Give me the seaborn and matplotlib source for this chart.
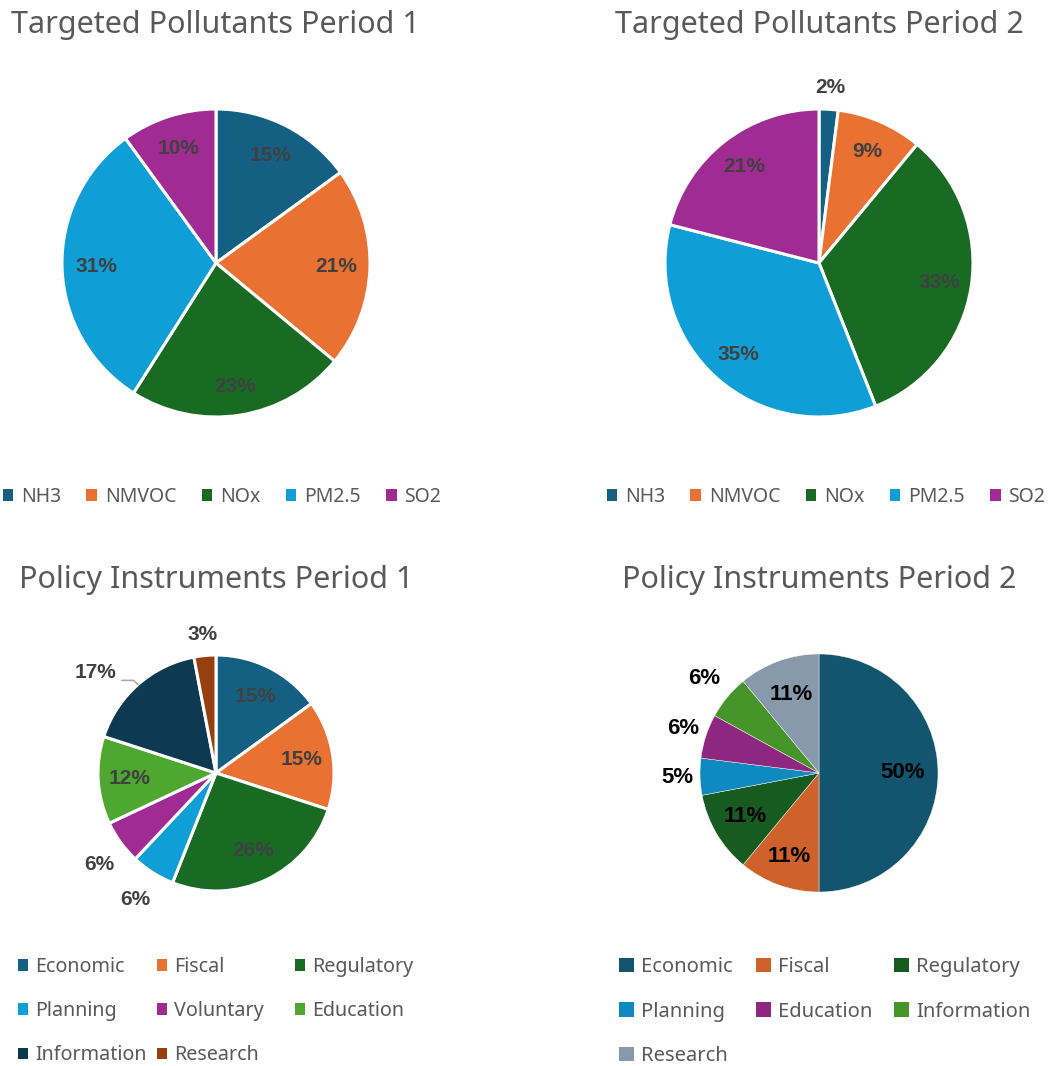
"""
Pie panels: targeted pollutants and policy instruments, two periods each.
"""
import matplotlib

matplotlib.use("Agg")
import matplotlib.pyplot as plt
import numpy as np
import seaborn as sns
from matplotlib.patches import Patch

sns.set_theme(style="white")
plt.rcParams["font.family"] = ["Noto Sans", "DejaVu Sans"]

W, H = 1051, 1066

# ---------------------------------------------------------------------------
# Data
# ---------------------------------------------------------------------------
pollutants = ["NH3", "NMVOC", "NOx", "PM2.5", "SO2"]
pollutants_p1 = [15, 21, 23, 31, 10]
pollutants_p2 = [2, 9, 33, 35, 21]

instruments_p1 = ["Economic", "Fiscal", "Regulatory", "Planning", "Voluntary",
                  "Education", "Information", "Research"]
instruments_p1_share = [15, 15, 26, 6, 6, 12, 17, 3]

instruments_p2 = ["Economic", "Fiscal", "Regulatory", "Planning", "Education",
                  "Information", "Research"]
instruments_p2_share = [50, 11, 11, 5, 6, 6, 11]

# ---------------------------------------------------------------------------
# Styling
# ---------------------------------------------------------------------------
pollutant_colors = ["#156082", "#E97132", "#196B24", "#0F9ED5", "#A02B93"]
instr1_colors = ["#156082", "#E97132", "#196B24", "#0F9ED5", "#A02B93",
                 "#4EA72E", "#0E3A51", "#96400F"]
instr2_colors = ["#13546F", "#CF622B", "#175B20", "#0F8AC0", "#8E2780",
                 "#45952A", "#8899AB"]

# label placement: radial distance (fraction of radius) and angular nudge (deg)
dist_p1 = [0.78, 0.78, 0.81, 0.78, 0.78]
dist_p2 = [1.14, 0.79, 0.79, 0.79, 0.79]
dist_i1 = [0.73, 0.73, 0.73, 1.27, 1.26, 0.73, 1.33, 1.18]
nudge_i1 = [0, 0, 0, 0, 2, 0, 8.6, 0]
dist_i2 = [0.70, 0.75, 0.72, 1.19, 1.20, 1.25, 0.70]

TITLE_COLOR = "#595959"
TITLE_FONT = ["Noto Sans", "DejaVu Sans"]
LABEL_FONT = ["Liberation Sans", "DejaVu Sans"]

fig = plt.figure(figsize=(W / 100, H / 100), dpi=100)


def draw_pie(cx, cy, r, values, colors, dists, label_color, label_size,
             edge_lw, nudges=None, leader_idx=None):
    pad = 1.6
    ax = fig.add_axes([(cx - pad * r) / W, 1 - (cy + pad * r) / H,
                       2 * pad * r / W, 2 * pad * r / H])
    wedges, _ = ax.pie(values, colors=colors, startangle=90, counterclock=False,
                       radius=1, wedgeprops=dict(edgecolor="white", linewidth=edge_lw))
    ax.set_xlim(-pad, pad)
    ax.set_ylim(-pad, pad)
    ax.set_aspect("equal")
    ax.axis("off")
    nudges = nudges or [0] * len(values)
    for i, (w, v, d, n) in enumerate(zip(wedges, values, dists, nudges)):
        mid = np.deg2rad((w.theta1 + w.theta2) / 2)
        ang = mid + np.deg2rad(n)
        x, y = d * np.cos(ang), d * np.sin(ang)
        ax.text(x, y, f"{v}%", ha="center", va="center", fontsize=label_size,
                fontweight="bold", color=label_color, family=LABEL_FONT)
        if i == leader_idx:
            # leader line: short horizontal run from the label, then to the wedge rim
            xs = [x + 0.22, x + 0.32, np.cos(mid)]
            ys = [y - 0.07, y - 0.07, np.sin(mid)]
            ax.plot(xs, ys, color="#A6A6A6", lw=1.1, solid_joinstyle="miter")
    return ax


def title(cx, cy, text, size):
    fig.text(cx / W, 1 - cy / H, text, ha="center", va="center",
             fontsize=size, color=TITLE_COLOR, family=TITLE_FONT)


def legend_row(names, colors, cx, cy, size, marker):
    handles = [Patch(facecolor=c, edgecolor="none") for c in colors]
    fig.legend(handles, names, loc="center", bbox_to_anchor=(cx / W, 1 - cy / H),
               ncol=len(names), frameon=False, fontsize=size, labelcolor=TITLE_COLOR,
               handlelength=marker, handleheight=marker, handletextpad=0.4,
               columnspacing=1.3, borderpad=0, borderaxespad=0)


def legend_grid(names, colors, col_x, top, size, marker, ncol=3):
    # one legend per column so columns sit at fixed positions, filled row-wise
    for j, x in enumerate(col_x):
        handles = [Patch(facecolor=c, edgecolor="none") for c in colors[j::ncol]]
        fig.legend(handles, names[j::ncol], loc="upper left",
                   bbox_to_anchor=(x / W, 1 - top / H), ncol=1, frameon=False,
                   fontsize=size, labelcolor=TITLE_COLOR, handlelength=marker,
                   handleheight=marker, handletextpad=0.35, labelspacing=1.22,
                   borderpad=0, borderaxespad=0)


# Targeted pollutants
draw_pie(216, 263, 154, pollutants_p1, pollutant_colors, dist_p1, "#404040", 15, 2.2)
draw_pie(819, 263, 154, pollutants_p2, pollutant_colors, dist_p2, "#404040", 15, 2.2)
title(215, 25, "Targeted Pollutants Period 1", 22)
title(819, 25, "Targeted Pollutants Period 2", 22)
legend_row(pollutants, pollutant_colors, 222, 497, 14, 0.55)
legend_row(pollutants, pollutant_colors, 826, 497, 14, 0.55)

# Policy instruments
draw_pie(216, 773, 118, instruments_p1_share, instr1_colors, dist_i1, "#404040", 15, 2.2,
         nudges=nudge_i1, leader_idx=6)
draw_pie(819, 773, 119, instruments_p2_share, instr2_colors, dist_i2, "black", 16, 0.3)
title(216, 580, "Policy Instruments Period 1", 22)
title(819, 580, "Policy Instruments Period 2", 22)
legend_grid(instruments_p1, instr1_colors, [18, 157, 295], 957, 14.2, 0.5)
legend_grid(instruments_p2, instr2_colors, [619, 756, 894], 957, 14.5, 0.75)

fig.savefig("out.png", dpi=100)
